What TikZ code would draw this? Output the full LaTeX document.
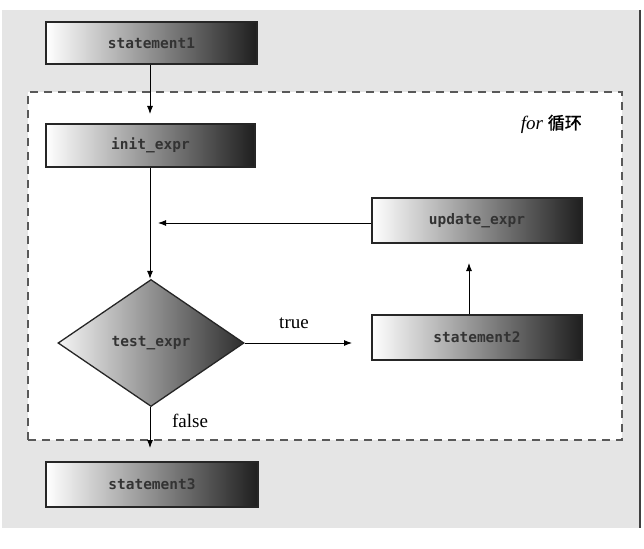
\documentclass[tikz,border=0pt]{standalone}
\usepackage{fontspec}
\setmainfont{Liberation Serif}
\setmonofont{DejaVu Sans Mono}
\newfontfamily\cjk[FakeBold=1.5]{Noto Sans CJK SC}
\usetikzlibrary{arrows.meta,shapes.geometric}
\tikzset{
  gbox/.style={draw=black!85, line width=1.3pt, left color=white, middle color=gray!60, right color=black!88,
    minimum width=210pt, minimum height=43pt, inner sep=0pt, font=\ttfamily\bfseries\fontsize{14.5}{16}\selectfont, text=black!80},
  gdiam/.style={diamond, draw=black!85, line width=1.3pt, left color=gray!8, right color=black!82,
    minimum width=186pt, minimum height=127pt, inner sep=0pt, aspect=1.46, font=\ttfamily\bfseries\fontsize{14.5}{16}\selectfont, text=black!80},
  arr/.style={line width=0.9pt, -{Latex[length=8pt,width=6pt]}},
  lbl/.style={font=\fontsize{19}{21}\selectfont, inner sep=0pt},
  loopbox/.style={draw=black!65, line width=2pt, dash pattern=on 8pt off 6pt, fill=white}
}
\begin{document}
\begin{tikzpicture}[x=1pt,y=-1pt]
\useasboundingbox (0,0) rectangle (644,548);
\fill[black!10] (2,10) rectangle (640,528);
\draw[black!75, line width=1.5pt] (640,10) -- (640,528);
\node[loopbox, minimum width=594pt, minimum height=348pt, inner sep=0pt] (loop) at (325,266) {};
\node[inner sep=0pt, anchor=east] (title) at (582,124) {\fontsize{19}{21}\selectfont\itshape for\ \cjk\fontsize{17}{19}\selectfont 循环};
\node[gbox, minimum width=211pt, minimum height=42pt] (s1) at (151.5,43) {statement1};
\node[gbox, minimum width=209pt] (init) at (150.5,145.5) {init\_expr};
\node[gbox, minimum height=45pt] (upd) at (477,220.5) {update\_expr};
\node[gdiam] (test) at (151,343) {test\_expr};
\node[gbox, minimum height=45pt] (s2) at (477,337.5) {statement2};
\node[gbox, minimum width=212pt, minimum height=45pt] (s3) at (152,484.5) {statement3};
\coordinate (c1) at (150,114);
\coordinate (c2) at (158,223);
\coordinate (c3) at (352,343);
\coordinate (c4) at (469,263);
\coordinate (c5) at (150,448);
\draw[arr] (s1.south -| c1) -- (c1);
\draw[arr] (init.south -| c1) -- (test.north -| c1);
\draw[arr] (upd.west |- c2) -- (c2);
\draw[arr] (test.east) -- (c3);
\draw[arr] (s2.north -| c4) -- (c4);
\draw[arr] (test.south -| c5) -- (c5);
\node[lbl] (t) at (294,323) {true};
\node[lbl] (f) at (190,421) {false};
\end{tikzpicture}
\end{document}
